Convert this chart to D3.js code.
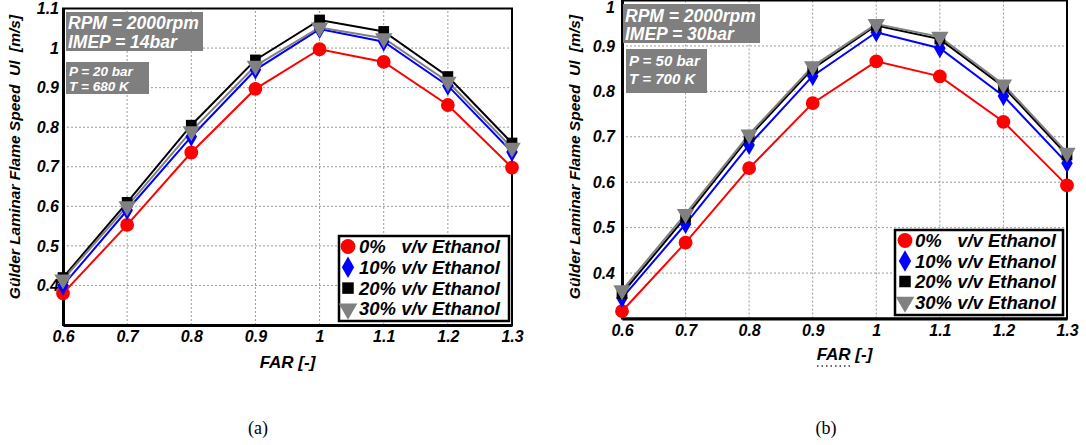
<!DOCTYPE html>
<html>
<head>
<meta charset="utf-8">
<script src="https://cdn.jsdelivr.net/npm/d3@7/dist/d3.min.js"></script>
<style>
  html, body { margin: 0; padding: 0; background: #fff; }
  svg { display: block; }
  text { white-space: pre; }
</style>
</head>
<body>
<svg id="chart" width="1086" height="445"></svg>
<script>
// ---------- DATA ----------
const farValues = [0.6, 0.7, 0.8, 0.9, 1.0, 1.1, 1.2, 1.3];
const xTickLabels = ["0.6", "0.7", "0.8", "0.9", "1", "1.1", "1.2", "1.3"];
const seriesNames = ["0%   v/v Ethanol", "10% v/v Ethanol", "20% v/v Ethanol", "30% v/v Ethanol"];

// Panel (a): P = 20 bar, T = 680 K
const a_eth0  = [0.380, 0.553, 0.736, 0.897, 0.997, 0.965, 0.856, 0.698];
const a_eth10 = [0.400, 0.590, 0.776, 0.945, 1.048, 1.016, 0.905, 0.737];
const a_eth20 = [0.420, 0.610, 0.805, 0.970, 1.071, 1.042, 0.928, 0.760];
const a_eth30 = [0.415, 0.600, 0.790, 0.955, 1.052, 1.025, 0.915, 0.748];
const a_yTicks = [0.4, 0.5, 0.6, 0.7, 0.8, 0.9, 1.0, 1.1];
const a_yTickLabels = ["0.4", "0.5", "0.6", "0.7", "0.8", "0.9", "1", "1.1"];
const a_box1 = ["RPM = 2000rpm", "IMEP = 14bar"];
const a_box2 = ["P = 20 bar", "T = 680 K"];

// Panel (b): P = 50 bar, T = 700 K
const b_eth0  = [0.316, 0.467, 0.631, 0.774, 0.866, 0.833, 0.733, 0.593];
const b_eth10 = [0.345, 0.508, 0.682, 0.834, 0.930, 0.895, 0.790, 0.642];
const b_eth20 = [0.355, 0.523, 0.700, 0.850, 0.945, 0.915, 0.810, 0.660];
const b_eth30 = [0.362, 0.530, 0.705, 0.855, 0.948, 0.920, 0.815, 0.665];
const b_yTicks = [0.4, 0.5, 0.6, 0.7, 0.8, 0.9, 1.0];
const b_yTickLabels = ["0.4", "0.5", "0.6", "0.7", "0.8", "0.9", "1"];
const b_box1 = ["RPM = 2000rpm", "IMEP = 30bar"];
const b_box2 = ["P = 50 bar", "T = 700 K"];

const yTitle = "Gülder Laminar Flame Speed  Ul  [m/s]";
const xTitle = "FAR [-]";

// ---------- STYLE ----------
const FONT = "'Liberation Sans', Arial, Helvetica, sans-serif";
const seriesStyle = [
  { color: "#ff0000", symbol: "circle" },
  { color: "#0000ff", symbol: "diamond" },
  { color: "#000000", symbol: "square" },
  { color: "#808080", symbol: "triangleDown" }
];

const svg = d3.select("#chart");

function markerPath(kind, scale) {
  const s = scale || 1;
  if (kind === "circle") return d3.symbol(d3.symbolCircle, 150 * s)();
  if (kind === "diamond") return d3.symbol(d3.symbolDiamond, 115 * s)();
  if (kind === "square") return d3.symbol(d3.symbolSquare, 115 * s)();
  return d3.symbol(d3.symbolTriangle, 130 * s)();
}
function markerTransform(kind, x, y) {
  if (kind === "triangleDown") return `translate(${x},${y}) rotate(180)`;
  return `translate(${x},${y})`;
}
function styleText(sel, size) {
  sel.attr("font-family", FONT).attr("font-size", size)
    .attr("font-weight", "bold").attr("font-style", "italic").attr("fill", "#000");
}

function drawPanel(cfg) {
  const g = svg.append("g");
  const x = d3.scaleLinear().domain([0.6, 1.3]).range(cfg.xRange);
  const y = d3.scaleLinear().domain(cfg.yDomain).range(cfg.yRange);
  const [x0, x1] = cfg.xRange;
  const [yb, yt] = cfg.yRange;

  // gridlines
  g.append("g").selectAll("line").data(farValues.slice(1, -1)).join("line")
    .attr("x1", d => x(d)).attr("x2", d => x(d)).attr("y1", yb).attr("y2", yt)
    .attr("stroke", "#9a9a9a").attr("stroke-width", 1).attr("stroke-dasharray", "2,2");
  g.append("g").selectAll("line").data(cfg.yTicks.filter(v => y(v) > yt + 2)).join("line")
    .attr("x1", x0).attr("x2", x1).attr("y1", d => y(d)).attr("y2", d => y(d))
    .attr("stroke", "#9a9a9a").attr("stroke-width", 1).attr("stroke-dasharray", "2,2");

  // frame
  g.append("rect").attr("x", x0).attr("y", yt).attr("width", x1 - x0).attr("height", yb - yt)
    .attr("fill", "none").attr("stroke", "#000").attr("stroke-width", 2);

  // axes (labels)
  const xAxis = d3.axisBottom(x).tickValues(farValues).tickSize(0).tickPadding(6)
    .tickFormat((d, i) => xTickLabels[i]);
  const gx = g.append("g").attr("transform", `translate(0,${yb})`).call(xAxis);
  gx.select(".domain").attr("stroke", "#000").attr("stroke-width", 3);
  styleText(gx.selectAll("text"), 16);

  const yAxis = d3.axisLeft(y).tickValues(cfg.yTicks).tickSize(0).tickPadding(cfg.yPad)
    .tickFormat((d, i) => cfg.yTickLabels[i]);
  const gy = g.append("g").attr("transform", `translate(${x0},0)`).call(yAxis);
  gy.select(".domain").attr("stroke", "#000").attr("stroke-width", 3);
  styleText(gy.selectAll("text"), 16);
  if (cfg.topLabelShift) {
    gy.selectAll(".tick").filter(d => d === cfg.yTicks[cfg.yTicks.length - 1])
      .select("text").attr("y", cfg.topLabelShift);
  }

  // series
  const line = d3.line().x((d, i) => x(farValues[i])).y(d => y(d));
  cfg.series.forEach((vals, si) => {
    const st = seriesStyle[si];
    g.append("path").datum(vals).attr("d", line)
      .attr("fill", "none").attr("stroke", st.color).attr("stroke-width", 2);
  });
  cfg.series.forEach((vals, si) => {
    const st = seriesStyle[si];
    g.append("g").selectAll("path").data(vals).join("path")
      .attr("d", markerPath(st.symbol))
      .attr("transform", (d, i) => markerTransform(st.symbol, x(farValues[i]), y(d)))
      .attr("fill", st.color);
  });

  // annotation boxes
  [cfg.box1, cfg.box2].forEach(b => {
    g.append("rect").attr("x", b.x).attr("y", b.y).attr("width", b.w).attr("height", b.h)
      .attr("fill", "#7f7f7f");
    b.lines.forEach((t, i) => {
      const tx = g.append("text").attr("x", b.x + b.tx).attr("y", b.base[i]).text(t);
      styleText(tx, b.fs);
      tx.attr("fill", "#fff");
    });
  });

  // legend
  const L = cfg.legend;
  g.append("rect").attr("x", L.x).attr("y", L.y).attr("width", L.w).attr("height", L.h)
    .attr("fill", "#fff").attr("stroke", "#000").attr("stroke-width", 2.5);
  seriesNames.forEach((name, i) => {
    const st = seriesStyle[i];
    const cy = L.y + L.row0 + i * L.dy;
    g.append("path").attr("d", markerPath(st.symbol, 1.15))
      .attr("transform", markerTransform(st.symbol, L.x + L.mx, cy))
      .attr("fill", st.color);
    const tx = g.append("text").attr("x", L.x + L.tx).attr("y", cy + 6.5).text(name);
    styleText(tx, L.fs);
  });

  // axis titles
  const yt_ = g.append("text")
    .attr("transform", `translate(${cfg.yTitlePos[0]},${cfg.yTitlePos[1]}) rotate(-90)`)
    .attr("text-anchor", "middle").text(yTitle);
  styleText(yt_, 15.5);
  const xt_ = g.append("text").attr("x", (x0 + x1) / 2).attr("y", cfg.xTitleY)
    .attr("text-anchor", "middle").text(xTitle);
  styleText(xt_, 17);

  // caption
  g.append("text").attr("x", cfg.caption[1]).attr("y", 434).attr("text-anchor", "middle")
    .text(cfg.caption[0]).attr("font-family", "'Liberation Serif', 'Times New Roman', serif")
    .attr("font-size", 18).attr("fill", "#000");
  return g;
}

drawPanel({
  xRange: [63, 512], yRange: [325, 8.5], yDomain: [0.3, 1.1],
  yTicks: a_yTicks, yTickLabels: a_yTickLabels, yPad: 4,
  series: [a_eth0, a_eth10, a_eth20, a_eth30],
  box1: { x: 66, y: 12, w: 137, h: 39, tx: 2, fs: 17.5, base: [29, 48], lines: a_box1 },
  box2: { x: 66, y: 62, w: 83, h: 32, tx: 3, fs: 13.5, base: [76, 91], lines: a_box2 },
  legend: { x: 339, y: 236, w: 170, h: 85, row0: 10.5, dy: 20.8, mx: 9, tx: 20, fs: 18.5 },
  yTitlePos: [20, 157], xTitleY: 368, caption: ["(a)", 258]
});

drawPanel({
  xRange: [622, 1067], yRange: [318.5, 0.5], yDomain: [0.3, 1.0],
  yTicks: b_yTicks, yTickLabels: b_yTickLabels, yPad: 7, topLabelShift: 7,
  series: [b_eth0, b_eth10, b_eth20, b_eth30],
  box1: { x: 623, y: 4, w: 137, h: 39, tx: 2, fs: 17.5, base: [22, 40], lines: b_box1 },
  box2: { x: 626, y: 49, w: 81, h: 44, tx: 3, fs: 15, base: [66, 84], lines: b_box2 },
  legend: { x: 895, y: 230, w: 168, h: 85, row0: 10.5, dy: 20.5, mx: 10, tx: 20, fs: 18.5 },
  yTitlePos: [580, 157], xTitleY: 360, caption: ["(b)", 826]
});

// faint dotted artifact under "FAR [-]" in panel (b)
svg.append("line").attr("x1", 817).attr("x2", 852).attr("y1", 366).attr("y2", 366)
  .attr("stroke", "#333").attr("stroke-width", 1.5).attr("stroke-dasharray", "1.5,3");
</script>
</body>
</html>
